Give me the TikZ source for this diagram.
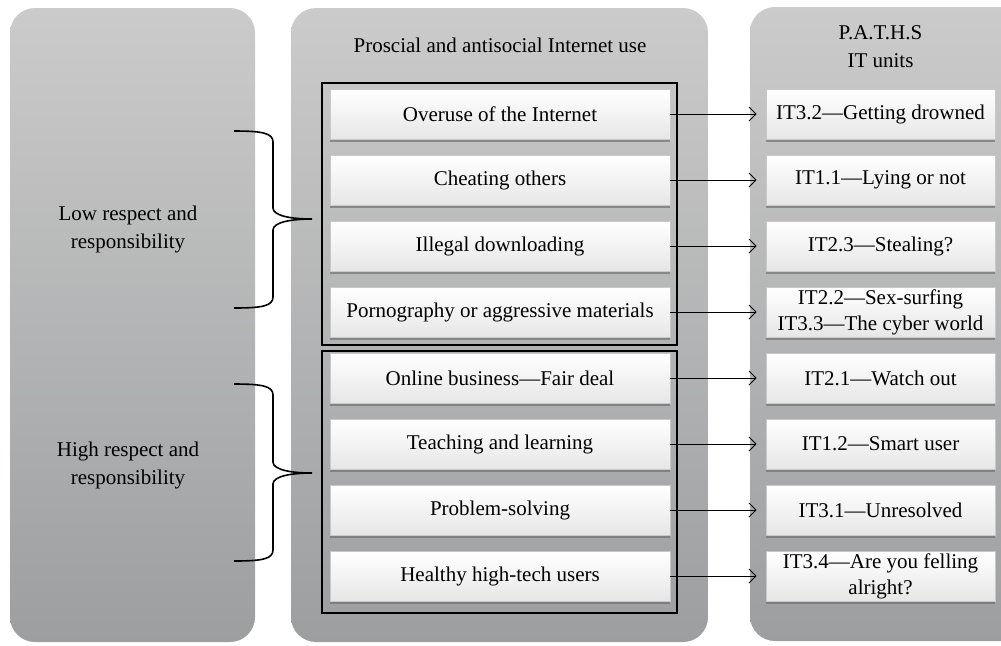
\documentclass[tikz,border=0pt]{standalone}
\usepackage{fontspec}
\setmainfont{Liberation Serif}
\usetikzlibrary{shadows, arrows.meta}

\definecolor{panelTop}{HTML}{CBCBCB}
\definecolor{panelBottom}{HTML}{9D9EA0}
\definecolor{btnEdge}{HTML}{C8C8C8}
\definecolor{btnLow}{HTML}{E6E6E6}

\newcommand\btnFont{\fontsize{10.5}{13}\selectfont}
\newcommand\midX{500}
\newcommand\unitX{880.5}
\newcommand\rowOne{114}
\newcommand\rowSep{66}
\newcommand\braceX{273}
\newcommand\tipX{312}

\begin{document}
\begin{tikzpicture}[x=0.5pt, y=-0.5pt, font=\btnFont,
    panel/.style={rounded corners=12.5pt, top color=panelTop, bottom color=panelBottom},
    usebtn/.style={rectangle, minimum width=170pt, minimum height=25pt, inner sep=1pt,
      top color=white, middle color=white, bottom color=btnLow, draw=btnEdge, line width=0.3pt,
      drop shadow={shadow xshift=0pt, shadow yshift=-1.4pt, fill=black!60, opacity=0.6}},
    unitbtn/.style={usebtn, minimum width=114.5pt, align=center},
    frame/.style={draw=black, line width=0.6pt},
    link/.style={-{Straight Barb[length=3.5pt, width=7pt]}, line width=0.5pt, shorten >=4.5pt},
    brace/.style={line width=0.8pt}]

    \useasboundingbox (0,0) rectangle (1001,645);
    \clip (0,0) rectangle (1001,645);

    % background panels
    \shade[panel] (10,8) rectangle (255,642);
    \shade[panel] (291,8) rectangle (708,642);
    \shade[panel] (750,7) rectangle (1040,641);

    % headings
    \node (useHead) at (\midX,45) {Proscial and antisocial Internet use};
    \node[align=center, font=\fontsize{10.5}{14}\selectfont] (unitHead) at (\unitX,47) {P.A.T.H.S\\IT units};

    \node[align=center, font=\fontsize{10.5}{14}\selectfont] (lowResp) at (128,229) {Low respect and\\responsibility};
    \node[align=center, font=\fontsize{10.5}{14}\selectfont] (highResp) at (128,465) {High respect and\\responsibility};

    % group frames
    \draw[frame] (322,83) rectangle (677,345);
    \draw[frame] (322,351) rectangle (677,613);

    % internet use
    \node[usebtn] (overuse) at (\midX,\rowOne) {Overuse of the Internet};
    \node[usebtn] (cheating) at (\midX,\rowOne+\rowSep*1) {Cheating others};
    \node[usebtn] (illegal) at (\midX,\rowOne+\rowSep*2) {Illegal downloading};
    \node[usebtn] (porn) at (\midX,\rowOne+\rowSep*3) {Pornography or aggressive materials};
    \node[usebtn] (business) at (\midX,\rowOne+\rowSep*4) {Online business---Fair deal};
    \node[usebtn] (teaching) at (\midX,\rowOne+\rowSep*5) {Teaching and learning};
    \node[usebtn] (problem) at (\midX,\rowOne+\rowSep*6) {Problem-solving};
    \node[usebtn] (healthy) at (\midX,\rowOne+\rowSep*7) {Healthy high-tech users};

    % IT units
    \node[unitbtn] (itDrowned) at (\unitX,\rowOne) {IT3.2---Getting drowned};
    \node[unitbtn] (itLying) at (\unitX,\rowOne+\rowSep*1) {IT1.1---Lying or not};
    \node[unitbtn] (itStealing) at (\unitX,\rowOne+\rowSep*2) {IT2.3---Stealing?};
    \node[unitbtn] (itSex) at (\unitX,\rowOne+\rowSep*3) {IT2.2---Sex-surfing\\IT3.3---The cyber world};
    \node[unitbtn] (itWatch) at (\unitX,\rowOne+\rowSep*4) {IT2.1---Watch out};
    \node[unitbtn] (itSmart) at (\unitX,\rowOne+\rowSep*5) {IT1.2---Smart user};
    \node[unitbtn] (itUnres) at (\unitX,\rowOne+\rowSep*6) {IT3.1---Unresolved};
    \node[unitbtn] (itAlright) at (\unitX,\rowOne+\rowSep*7) {IT3.4---Are you felling\\alright?};

    \draw[link] (overuse) -- (itDrowned);
    \draw[link] (cheating) -- (itLying);
    \draw[link] (illegal) -- (itStealing);
    \draw[link] (porn) -- (itSex);
    \draw[link] (business) -- (itWatch);
    \draw[link] (teaching) -- (itSmart);
    \draw[link] (problem) -- (itUnres);
    \draw[link] (healthy) -- (itAlright);

    % braces
    \draw[brace] (234,131) .. controls (262,131) and (\braceX,133) .. (\braceX,142) -- (\braceX,208)
      .. controls (\braceX,216) and (292,219) .. (\tipX,219)
      .. controls (292,219) and (\braceX,222) .. (\braceX,230) -- (\braceX,297)
      .. controls (\braceX,306) and (262,308) .. (234,308);
    \draw[brace] (234,384) .. controls (262,384) and (\braceX,386) .. (\braceX,395) -- (\braceX,462)
      .. controls (\braceX,470) and (292,473) .. (\tipX,473)
      .. controls (292,473) and (\braceX,476) .. (\braceX,484) -- (\braceX,550)
      .. controls (\braceX,559) and (262,561) .. (234,561);

  \end{tikzpicture}
\end{document}
